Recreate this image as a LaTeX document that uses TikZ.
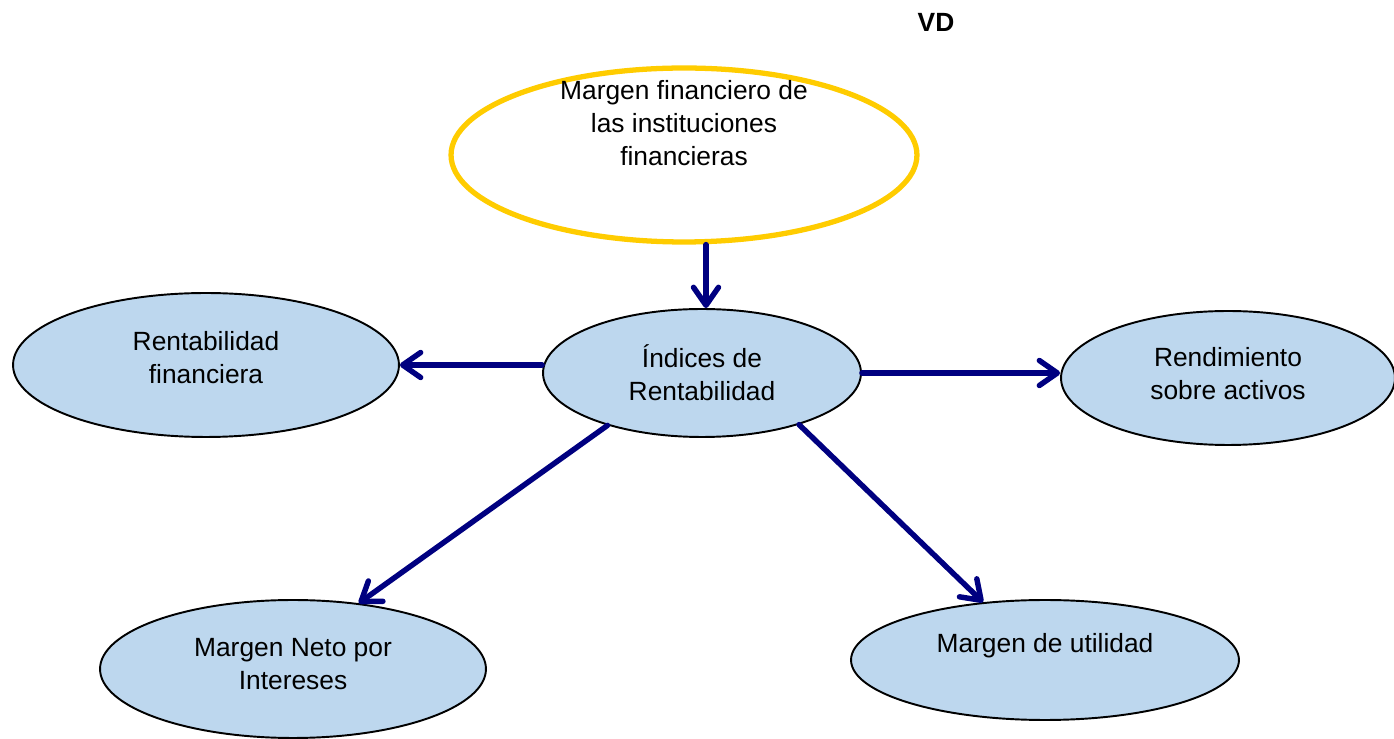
\documentclass[tikz,border=0pt]{standalone}
\usepackage{fontspec}
\setmainfont{Liberation Sans}
\usetikzlibrary{arrows.meta,shapes.geometric}
\definecolor{azulosc}{RGB}{0,0,128}
\definecolor{celeste}{RGB}{189,215,238}
\definecolor{oro}{RGB}{255,204,0}
\tikzset{
  elip/.style={ellipse, draw=black, line width=1.1pt, fill=celeste, inner sep=0pt},
  elipvd/.style={ellipse, draw=oro, line width=3pt, fill=white, inner sep=0pt},
  txt/.style={align=center, font=\fontsize{15}{18.7}\selectfont},
  flecha/.style={draw=azulosc, line width=3.1pt, line cap=round,
    -{Straight Barb[length=3.6mm, width=5mm, line cap=round, line join=round]}}
}
\begin{document}
\begin{tikzpicture}[x=0.02cm, y=-0.02cm]
\useasboundingbox (0,0) rectangle (1394,739);
\node[txt, font=\bfseries\fontsize{15}{18}\selectfont] (VD) at (936,22) {VD};
\node[elipvd, minimum width=9.32cm, minimum height=3.48cm,
  label={[txt, yshift=0.64cm]center:Margen financiero de\\las instituciones\\financieras}] (MF) at (684,155) {};
\node[elip, minimum width=6.36cm, minimum height=2.56cm,
  label={[txt]center:Índices de\\Rentabilidad}] (IR) at (702,373) {};
\node[elip, minimum width=7.72cm, minimum height=2.88cm,
  label={[txt, yshift=0.14cm]center:Rentabilidad\\financiera}] (RF) at (206,365) {};
\node[elip, minimum width=6.68cm, minimum height=2.68cm,
  label={[txt, yshift=0.08cm]center:Rendimiento\\sobre activos}] (RA) at (1228,378) {};
\node[elip, minimum width=7.72cm, minimum height=2.76cm,
  label={[txt, yshift=0.1cm]center:Margen Neto por\\Intereses}] (MN) at (293,669) {};
\node[elip, minimum width=7.76cm, minimum height=2.40cm,
  label={[txt, yshift=0.28cm]center:Margen de utilidad}] (MU) at (1045,660) {};
\draw[flecha] ([xshift=0.08cm]IR.north |- MF.south) -- ([xshift=0.08cm]IR.north);
\draw[flecha] (RF.east -| IR.west) -- (RF.east);
\draw[flecha] (IR.east) -- (RA.west |- IR.east);
\draw[flecha] (IR.209) -- (MN.45);
\draw[flecha] (IR.-28) -- (MU.137);
\end{tikzpicture}
\end{document}
